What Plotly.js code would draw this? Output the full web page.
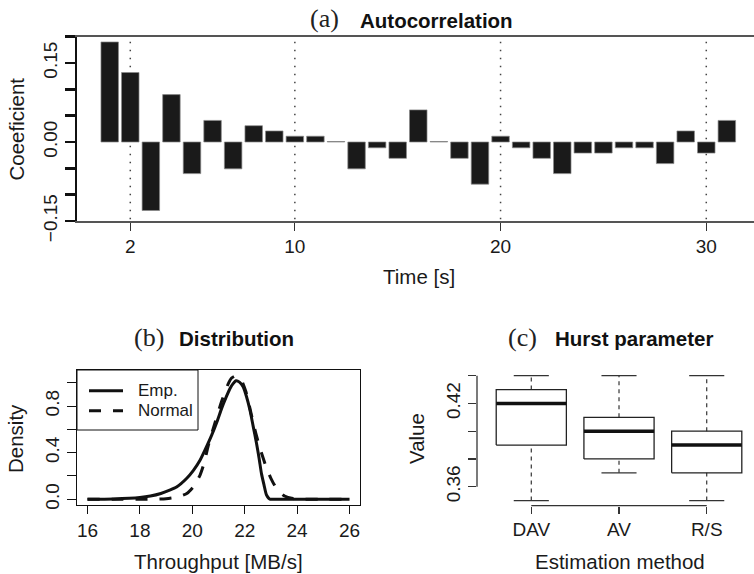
<!DOCTYPE html>
<html>
<head>
<meta charset="utf-8">
<script src="https://cdn.plot.ly/plotly-3.0.1.min.js"></script>
<style>html,body{margin:0;padding:0;background:#fff;}#chart{width:754px;height:574px;}</style>
</head>
<body>
<div id="chart"></div>
<script>
// ---------- Data ----------
// (a) Autocorrelation
const lags = [1,2,3,4,5,6,7,8,9,10,11,12,13,14,15,16,17,18,19,20,21,22,23,24,25,26,27,28,29,30,31];
const acf = [0.190,0.132,-0.130,0.090,-0.060,0.041,-0.051,0.031,0.021,0.011,0.011,0.001,-0.051,-0.011,-0.031,0.061,0.001,-0.031,-0.080,0.011,-0.011,-0.031,-0.060,-0.021,-0.021,-0.011,-0.011,-0.041,0.021,-0.021,0.041];
const refLags = [2,10,20,30];
const acfTickVals = [-0.15,-0.10,-0.05,0.00,0.05,0.10,0.15,0.20];
const acfTickText = ['\u22120.15','','','0.00','','','0.15',''];

// (b) Distribution
const empX = [16,17,18,18.4,18.8,19.16,19.4,19.79,20.05,20.3,20.5,20.74,20.95,21.12,21.3,21.44,21.55,21.67,21.8,21.94,22.07,22.2,22.32,22.45,22.55,22.64,22.74,22.83,22.92,22.98,23.1,24,25,26];
const empY = [0,0.003,0.015,0.028,0.05,0.08,0.105,0.18,0.25,0.337,0.43,0.55,0.67,0.78,0.88,0.95,0.99,1.017,1.005,0.966,0.88,0.766,0.63,0.48,0.35,0.22,0.12,0.037,0.008,0,0,0,0,0];
const normX = [16,17,18,18.5,19.0,19.4,19.79,20.05,20.3,20.45,20.61,20.87,21.12,21.37,21.5,21.63,21.75,21.88,22.05,22.26,22.42,22.58,22.83,23.0,23.21,23.52,23.84,24.2,25,26];
const normY = [0,0,0,0.001,0.005,0.018,0.05,0.11,0.21,0.31,0.46,0.66,0.84,0.99,1.04,1.057,1.05,1.02,0.92,0.72,0.57,0.44,0.27,0.18,0.094,0.028,0.006,0.001,0,0];
const distTickVals = [0,0.2,0.4,0.6,0.8,1.0];
const distTickText = ['0.0','','0.4','','0.8',''];
const thrTicks = [16,18,20,22,24,26];
const legendNames = ['Emp.','Normal'];

// (c) Hurst parameter
const methods = ['DAV','AV','R/S'];
const hMin = [0.35,0.37,0.35];
const hQ1  = [0.39,0.38,0.37];
const hMed = [0.42,0.40,0.39];
const hQ3  = [0.43,0.41,0.40];
const hMax = [0.44,0.44,0.44];
const hTickVals = [0.36,0.38,0.40,0.42,0.44];
const hTickText = ['0.36','','','0.42',''];

// ---------- Helpers ----------
const W = 754, H = 574;
const px = x => x / W;
const py = y => 1 - y / H;
const SANS = 'Liberation Sans, Arial, Helvetica, sans-serif';
const SERIF = 'Liberation Serif, Times New Roman, serif';
const TICKF = {family: SANS, size: 19, color: '#1a1a1a'};
const TITLEF = {family: SANS, size: 20.5, color: '#1a1a1a'};
const MAINF = {family: SANS, size: 20.5, color: '#111', weight: 'bold'};
const LETTERF = {family: SERIF, size: 26, color: '#222'};

const traces = [];

// (a) bars
traces.push({
  type: 'bar', x: lags, y: acf, width: 0.85, xaxis: 'x', yaxis: 'y',
  marker: {color: '#1a1a1a', line: {color: '#888', width: 0.7}},
  hoverinfo: 'x+y', showlegend: false
});

// (b) curves
traces.push({
  type: 'scatter', mode: 'lines', x: empX, y: empY, name: legendNames[0],
  xaxis: 'x2', yaxis: 'y2', line: {color: '#111', width: 3, shape: 'spline', smoothing: 0.6}, showlegend: false
});
traces.push({
  type: 'scatter', mode: 'lines', x: normX, y: normY, name: legendNames[1],
  xaxis: 'x2', yaxis: 'y2', line: {color: '#111', width: 3, dash: '12px,12px', shape: 'spline', smoothing: 0.6}, showlegend: false
});

// (c) boxplots built from the summary arrays
const bw = 0.4, cw = 0.2;
methods.forEach((m, i) => {
  const c = i + 1;
  const common = {type: 'scatter', mode: 'lines', xaxis: 'x3', yaxis: 'y3', showlegend: false, hoverinfo: 'y'};
  traces.push(Object.assign({}, common, {x: [c, c], y: [hQ3[i], hMax[i]], line: {color: '#333', width: 1.2, dash: '4px,4px'}}));
  traces.push(Object.assign({}, common, {x: [c, c], y: [hMin[i], hQ1[i]], line: {color: '#333', width: 1.2, dash: '4px,4px'}}));
  traces.push(Object.assign({}, common, {x: [c - cw, c + cw], y: [hMax[i], hMax[i]], line: {color: '#333', width: 1.3}}));
  traces.push(Object.assign({}, common, {x: [c - cw, c + cw], y: [hMin[i], hMin[i]], line: {color: '#333', width: 1.3}}));
  traces.push(Object.assign({}, common, {x: [c - bw, c + bw, c + bw, c - bw, c - bw], y: [hQ1[i], hQ1[i], hQ3[i], hQ3[i], hQ1[i]], line: {color: '#222', width: 1.3}}));
  traces.push(Object.assign({}, common, {x: [c - bw, c + bw], y: [hMed[i], hMed[i]], line: {color: '#111', width: 3.5}}));
});

// ---------- Shapes ----------
const shapes = [];
refLags.forEach(v => shapes.push({
  type: 'line', xref: 'x', yref: 'y domain', x0: v, x1: v, y0: 0.01, y1: 0.99,
  line: {color: '#444', width: 1.5, dash: '1.5px,6.5px'}, layer: 'below'
}));
// panel (c) axis lines (R style: from first to last tick)
shapes.push({type: 'line', xref: 'x3 domain', yref: 'y3', x0: 0, x1: 0, y0: hTickVals[0], y1: hTickVals[hTickVals.length - 1], line: {color: '#333', width: 1.3}});
shapes.push({type: 'line', xref: 'x3', yref: 'y3 domain', x0: 1, x1: methods.length, y0: 0, y1: 0, line: {color: '#333', width: 1.3}});
// legend box for (b)
shapes.push({type: 'rect', xref: 'x2 domain', yref: 'y2 domain', x0: 0, x1: (198 - 77) / 283, y0: 1 - 60 / 135, y1: 1, line: {color: '#111', width: 1}, fillcolor: 'rgba(0,0,0,0)'});
shapes.push({type: 'line', xref: 'x2 domain', yref: 'y2 domain', x0: 12 / 283, x1: 46 / 283, y0: 1 - 20.7 / 135, y1: 1 - 20.7 / 135, line: {color: '#111', width: 3}});
shapes.push({type: 'line', xref: 'x2 domain', yref: 'y2 domain', x0: 12 / 283, x1: 46 / 283, y0: 1 - 40.7 / 135, y1: 1 - 40.7 / 135, line: {color: '#111', width: 3, dash: '12px,12px'}});

// ---------- Annotations ----------
function ann(text, x, y, opts) {
  return Object.assign({text: text, xref: 'paper', yref: 'paper', x: px(x), y: py(y), showarrow: false,
    xanchor: 'center', yanchor: 'middle', font: TITLEF}, opts || {});
}
const annotations = [
  ann('(a)', 324, 19, {font: LETTERF}),
  ann('Autocorrelation', 358, 20, {xanchor: 'left', font: MAINF}),
  ann('(b)', 149, 337, {font: LETTERF}),
  ann('Distribution', 177, 338, {xanchor: 'left', font: MAINF}),
  ann('(c)', 522, 337, {font: LETTERF}),
  ann('Hurst parameter', 553, 338, {xanchor: 'left', font: MAINF}),
  ann('Coeeficient', 15.5, 129, {textangle: -90}),
  ann('Time [s]', 419, 276.5),
  ann('Density', 15, 439, {textangle: -90}),
  ann('Throughput [MB/s]', 218, 561.5),
  ann('Value', 417, 438, {textangle: -90}),
  ann('Estimation method', 620, 561.5),
  {text: legendNames[0], xref: 'x2 domain', yref: 'y2 domain', x: (136 - 77) / 283, y: 1 - 20.7 / 135, xanchor: 'left', yanchor: 'middle', showarrow: false, font: {family: SANS, size: 17, color: '#1a1a1a'}},
  {text: legendNames[1], xref: 'x2 domain', yref: 'y2 domain', x: (136 - 77) / 283, y: 1 - 40.7 / 135, xanchor: 'left', yanchor: 'middle', showarrow: false, font: {family: SANS, size: 17, color: '#1a1a1a'}}
];

// ---------- Layout ----------
const layout = {
  width: W, height: H, margin: {l: 0, r: 0, t: 0, b: 0},
  paper_bgcolor: '#fff', plot_bgcolor: '#fff', showlegend: false,
  font: {family: SANS, color: '#1a1a1a'},
  bargap: 0,
  xaxis: {
    domain: [px(77), 1], range: [-0.59, 32.32], anchor: 'y',
    tickmode: 'array', tickvals: refLags, ticks: 'outside', ticklen: 8, tickwidth: 1, tickcolor: '#333',
    showline: true, mirror: true, linecolor: '#555', linewidth: 1.5,
    showgrid: false, zeroline: false, tickfont: TICKF, automargin: false
  },
  yaxis: {
    domain: [py(221), py(36.7)], range: [-0.15, 0.20], anchor: 'x',
    tickmode: 'array', tickvals: acfTickVals, ticktext: acfTickText, tickangle: -90,
    ticks: 'outside', ticklen: 10, tickwidth: 2.5, tickcolor: '#111',
    showline: true, linecolor: '#111', linewidth: 2.5,
    showgrid: false, zeroline: false, tickfont: TICKF, automargin: false
  },
  xaxis2: {
    domain: [px(77), px(360)], range: [15.6, 26.4], anchor: 'y2',
    tickmode: 'array', tickvals: thrTicks, ticks: 'outside', ticklen: 8, tickwidth: 1, tickcolor: '#111',
    showline: true, mirror: true, linecolor: '#111', linewidth: 1,
    showgrid: false, zeroline: false, tickfont: TICKF, automargin: false
  },
  yaxis2: {
    domain: [py(505), py(370)], range: [-0.049, 1.109], anchor: 'x2',
    tickmode: 'array', tickvals: distTickVals, ticktext: distTickText, tickangle: -90,
    ticks: 'outside', ticklen: 9, tickwidth: 1, tickcolor: '#111',
    showline: true, mirror: true, linecolor: '#111', linewidth: 1,
    showgrid: false, zeroline: false, tickfont: TICKF, automargin: false
  },
  xaxis3: {
    domain: [px(477), 1], range: [0.381, 3.539], anchor: 'y3',
    tickmode: 'array', tickvals: [1, 2, 3], ticktext: methods, ticks: 'outside', ticklen: 7, tickwidth: 1.3, tickcolor: '#333',
    showline: false, showgrid: false, zeroline: false, tickfont: TICKF, automargin: false
  },
  yaxis3: {
    domain: [py(505.6), py(370.7)], range: [0.3464, 0.4436], anchor: 'x3',
    tickmode: 'array', tickvals: hTickVals, ticktext: hTickText, tickangle: -90,
    ticks: 'outside', ticklen: 8, tickwidth: 1.3, tickcolor: '#333',
    showline: false, showgrid: false, zeroline: false, tickfont: TICKF, automargin: false
  },
  shapes: shapes,
  annotations: annotations
};

Plotly.newPlot('chart', traces, layout, {staticPlot: true, displayModeBar: false});
</script>
</body>
</html>
